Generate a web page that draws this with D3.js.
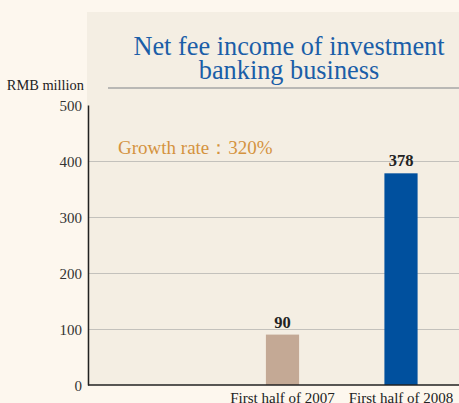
<!DOCTYPE html>
<html>
<head>
<meta charset="utf-8">
<script src="https://cdn.jsdelivr.net/npm/d3@7"></script>
<style>
  html, body { margin: 0; padding: 0; background: #fdf7ee; }
  svg { display: block; }
  text { font-family: "Liberation Serif", "DejaVu Serif", serif; }
</style>
</head>
<body>
<svg id="chart" width="459" height="403"></svg>
<script>
// Net fee income of investment banking business, RMB million
const categories = ["First half of 2007", "First half of 2008"];
const values = [90, 378];
const barColors = ["#c4a995", "#00509e"];
const yTicks = [0, 100, 200, 300, 400, 500];
const titleLines = ["Net fee income of investment", "banking business"];
const unitLabel = "RMB million";
const growthLabel = "Growth rate：320%";

const W = 459, H = 403;
const plot = { left: 88, right: 460, top: 105, bottom: 385 };

const svg = d3.select("#chart");

// shaded panel behind the plot
svg.append("rect")
  .attr("x", 87).attr("y", 12)
  .attr("width", W - 87).attr("height", plot.bottom - 12)
  .attr("fill", "#f4eee3");

const y = d3.scaleLinear().domain([0, 500]).range([plot.bottom, plot.top]);
const x = d3.scaleBand().domain(categories)
  .range([223.25, 460.25]).paddingInner(0.72).paddingOuter(0.36);

// gridlines
svg.append("g").selectAll("line")
  .data(yTicks.filter(d => d > 0 && d < 500))
  .join("line")
  .attr("x1", plot.left).attr("x2", W)
  .attr("y1", d => y(d) + 0.5).attr("y2", d => y(d) + 0.5)
  .attr("stroke", "#c3c1bc").attr("stroke-width", 1);

// title
const title = svg.append("text")
  .attr("text-anchor", "middle")
  .attr("fill", "#1b5ea8")
  .attr("font-size", 26.3);
titleLines.forEach((t, i) => {
  title.append("tspan").attr("x", 289).attr("y", 54.5 + i * 24).text(t);
});
svg.append("line")
  .attr("x1", 108).attr("x2", W)
  .attr("y1", 88).attr("y2", 88)
  .attr("stroke", "#a6a6a6").attr("stroke-width", 1.5);

// unit label
svg.append("text")
  .attr("x", 84).attr("y", 90)
  .attr("text-anchor", "end")
  .attr("font-size", 14.4)
  .attr("fill", "#222")
  .text(unitLabel);

// growth note
svg.append("text")
  .attr("x", 118).attr("y", 154)
  .attr("font-size", 19)
  .attr("fill", "#d4933f")
  .text(growthLabel);

// bars
svg.append("g").selectAll("rect")
  .data(categories)
  .join("rect")
  .attr("x", d => x(d))
  .attr("width", x.bandwidth())
  .attr("y", (d, i) => y(values[i]))
  .attr("height", (d, i) => y(0) - y(values[i]))
  .attr("fill", (d, i) => barColors[i]);

// value labels
svg.append("g").selectAll("text")
  .data(categories)
  .join("text")
  .attr("x", d => x(d) + x.bandwidth() / 2)
  .attr("y", (d, i) => y(values[i]) - 7)
  .attr("text-anchor", "middle")
  .attr("font-size", 16.5)
  .attr("font-weight", "bold")
  .attr("fill", "#222")
  .text((d, i) => values[i]);

// y axis
const yAxis = d3.axisLeft(y).tickValues(yTicks).tickSize(0).tickPadding(6);
const gy = svg.append("g").attr("transform", `translate(${plot.left},0)`).call(yAxis);
gy.select(".domain").attr("stroke", "#222").attr("stroke-width", 1.5);
gy.selectAll("text")
  .attr("font-family", "Liberation Serif, serif")
  .attr("font-size", 15)
  .attr("fill", "#333")
  .attr("dy", "0.35em");

// x axis
const xAxis = d3.axisBottom(x).tickSize(0).tickPadding(0);
const gx = svg.append("g").attr("transform", `translate(0,${plot.bottom})`).call(xAxis);
gx.select(".domain")
  .attr("d", `M${plot.left},0H${W}`)
  .attr("stroke", "#222").attr("stroke-width", 1.5);
gx.selectAll("text")
  .attr("font-family", "Liberation Serif, serif")
  .attr("font-size", 15)
  .attr("fill", "#222")
  .attr("y", 17.5)
  .attr("dy", null);
</script>
</body>
</html>
